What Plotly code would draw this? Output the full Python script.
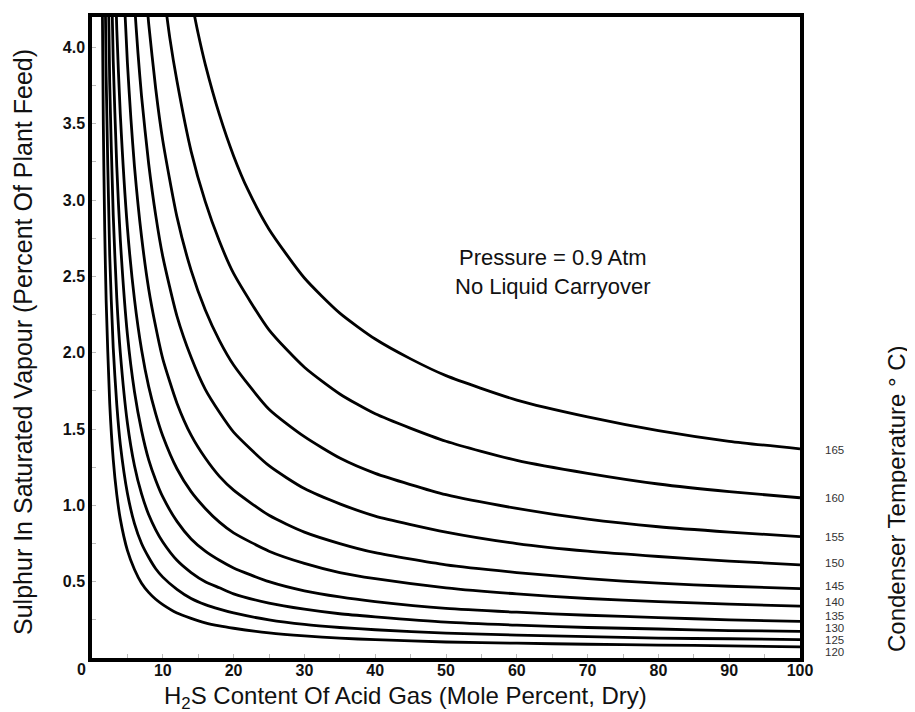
import plotly.graph_objects as go

# ---- data ----
temps = [165, 160, 155, 150, 145, 140, 135, 130, 125, 120]

x165 = [14, 15, 16, 18, 20, 22, 25, 30, 35, 40, 45, 50, 60, 70, 80, 90, 100]
y165 = [4.32, 4.09, 3.89, 3.56, 3.29, 3.07, 2.81, 2.49, 2.26, 2.09, 1.96, 1.85, 1.69, 1.58, 1.49, 1.42, 1.37]

x160 = [10, 11, 12, 14, 16, 18, 20, 25, 30, 35, 40, 50, 60, 70, 80, 90, 100]
y160 = [4.41, 4.06, 3.78, 3.32, 2.99, 2.73, 2.52, 2.15, 1.905, 1.73, 1.60, 1.42, 1.295, 1.21, 1.14, 1.09, 1.05]

x155 = [7.5, 8, 9, 10, 12, 14, 16, 18, 20, 25, 30, 35, 40, 50, 60, 70, 80, 90, 100]
y155 = [4.42, 4.16, 3.73, 3.39, 2.89, 2.54, 2.28, 2.08, 1.92, 1.63, 1.45, 1.31, 1.21, 1.07, 0.98, 0.91, 0.86, 0.825, 0.795]

x150 = [5.5, 6, 6.5, 7, 8, 9, 10, 12, 14, 16, 18, 20, 25, 30, 35, 40, 50, 60, 70, 80, 90, 100]
y150 = [4.69, 4.29, 3.96, 3.68, 3.24, 2.90, 2.63, 2.24, 1.97, 1.76, 1.61, 1.48, 1.26, 1.11, 1.01, 0.93, 0.825, 0.75, 0.70, 0.665, 0.635, 0.61]

x145 = [4.5, 5, 5.5, 6, 7, 8, 9, 10, 12, 14, 16, 18, 20, 25, 30, 35, 40, 50, 60, 70, 80, 90, 100]
y145 = [4.38, 3.90, 3.53, 3.22, 2.76, 2.42, 2.17, 1.96, 1.67, 1.46, 1.31, 1.19, 1.10, 0.935, 0.825, 0.75, 0.69, 0.61, 0.56, 0.52, 0.49, 0.47, 0.455]

x140 = [3, 3.5, 4, 5, 6, 7, 8, 9, 10, 12, 14, 16, 18, 20, 25, 30, 35, 40, 50, 60, 70, 80, 90, 100]
y140 = [4.90, 4.12, 3.56, 2.82, 2.35, 2.02, 1.78, 1.60, 1.455, 1.24, 1.09, 0.98, 0.89, 0.82, 0.70, 0.62, 0.56, 0.52, 0.46, 0.42, 0.39, 0.37, 0.353, 0.34]

x135 = [2.5, 3, 3.5, 4, 5, 6, 7, 8, 9, 10, 12, 14, 16, 18, 20, 25, 30, 35, 40, 50, 60, 70, 80, 90, 100]
y135 = [5.01, 3.91, 3.22, 2.74, 2.12, 1.745, 1.49, 1.30, 1.165, 1.055, 0.895, 0.78, 0.70, 0.64, 0.59, 0.50, 0.44, 0.40, 0.37, 0.325, 0.30, 0.28, 0.265, 0.25, 0.24]

x130 = [2, 2.5, 3, 3.5, 4, 5, 6, 7, 8, 9, 10, 12, 14, 16, 18, 20, 25, 30, 35, 40, 50, 60, 70, 80, 90, 100]
y130 = [5.43, 3.77, 2.90, 2.36, 2.00, 1.54, 1.26, 1.075, 0.94, 0.84, 0.76, 0.64, 0.56, 0.50, 0.46, 0.42, 0.36, 0.32, 0.29, 0.27, 0.235, 0.215, 0.20, 0.19, 0.18, 0.175]

x125 = [1.8, 2, 2.5, 3, 3.5, 4, 5, 6, 7, 8, 9, 10, 12, 14, 16, 18, 20, 25, 30, 35, 40, 50, 60, 70, 80, 90, 100]
y125 = [4.64, 3.81, 2.64, 2.03, 1.66, 1.40, 1.08, 0.88, 0.75, 0.66, 0.585, 0.53, 0.45, 0.39, 0.35, 0.32, 0.295, 0.25, 0.22, 0.20, 0.185, 0.163, 0.15, 0.14, 0.13, 0.126, 0.12]

x120 = [1.4, 1.6, 1.8, 2, 2.5, 3, 3.5, 4, 5, 6, 7, 8, 9, 10, 12, 14, 16, 18, 20, 25, 30, 35, 40, 50, 60, 70, 80, 90, 100]
y120 = [4.63, 3.49, 2.80, 2.34, 1.67, 1.30, 1.07, 0.91, 0.705, 0.58, 0.49, 0.43, 0.385, 0.35, 0.295, 0.26, 0.23, 0.21, 0.195, 0.165, 0.145, 0.13, 0.12, 0.105, 0.097, 0.09, 0.085, 0.08, 0.073]

# y positions of the temperature labels on the right side (data units)
label_y = [1.365, 1.05, 0.79, 0.625, 0.47, 0.365, 0.275, 0.195, 0.12, 0.04]

x_ticks = [10, 20, 30, 40, 50, 60, 70, 80, 90, 100]
y_ticks = [0.5, 1.0, 1.5, 2.0, 2.5, 3.0, 3.5, 4.0]

xs = [x165, x160, x155, x150, x145, x140, x135, x130, x125, x120]
ys = [y165, y160, y155, y150, y145, y140, y135, y130, y125, y120]

FONT = "Liberation Sans, Arial, sans-serif"
INK = "#111"

fig = go.Figure()
for t, xv, yv in zip(temps, xs, ys):
    fig.add_trace(go.Scatter(
        x=xv, y=yv, mode="lines", name=str(t),
        line=dict(color="black", width=2.8, shape="spline", smoothing=0.6),
        showlegend=False, hoverinfo="skip",
    ))

annotations = []
for t, ly in zip(temps, label_y):
    annotations.append(dict(
        x=1, xref="paper", y=ly, yref="y", text=str(t), showarrow=False,
        xanchor="center", yanchor="middle", xshift=34,
        font=dict(family=FONT, size=11.5, color="#333"),
    ))

annotations += [
    dict(x=0, xref="paper", y=0, yref="y", text="0", showarrow=False,
         xanchor="center", yanchor="middle", xshift=-11, yshift=-11,
         font=dict(family=FONT, size=16, color=INK, weight="bold")),
    dict(x=0.651, xref="paper", y=0.6023, yref="paper",
         text="Pressure = 0.9 Atm<br>No Liquid Carryover", showarrow=False,
         xanchor="center", yanchor="middle", align="center",
         font=dict(family=FONT, size=22, color=INK)),
    dict(x=0.4435, xref="paper", y=-0.0615, yref="paper",
         text="H<sub>2</sub>S Content Of Acid Gas (Mole Percent, Dry)", showarrow=False,
         xanchor="center", yanchor="middle",
         font=dict(family=FONT, size=24, color=INK)),
    dict(x=-0.0975, xref="paper", y=0.493, yref="paper",
         text="Sulphur In Saturated Vapour (Percent Of Plant Feed)", showarrow=False,
         textangle=-90, xanchor="center", yanchor="middle",
         font=dict(family=FONT, size=25, color=INK)),
    dict(x=1.1356, xref="paper", y=0.248, yref="paper",
         text="Condenser Temperature ° C)", showarrow=False,
         textangle=-90, xanchor="center", yanchor="middle",
         font=dict(family=FONT, size=24, color=INK)),
]

# the page body adds an 8px margin, so the figure is made 8px smaller
fig.update_layout(
    width=907, height=704,
    margin=dict(l=84, r=115, t=5, b=54),
    paper_bgcolor="white", plot_bgcolor="white",
    showlegend=False,
    annotations=annotations,
    xaxis=dict(
        range=[0, 100], showgrid=False, zeroline=False,
        showline=True, linecolor="black", linewidth=3.5, mirror=True,
        tickmode="array", tickvals=x_ticks, ticktext=[str(v) for v in x_ticks],
        ticks="inside", ticklen=4, tickwidth=1, tickcolor="#bbb",
        minor=dict(tickmode="linear", tick0=0, dtick=5, ticks="inside", ticklen=4, tickcolor="#bbb"),
        tickfont=dict(family=FONT, size=16, color=INK, weight="bold"),
        ticklabelstandoff=-5,
    ),
    yaxis=dict(
        range=[0, 4.2], showgrid=False, zeroline=False,
        showline=True, linecolor="black", linewidth=3.5, mirror=True,
        tickmode="array", tickvals=y_ticks, ticktext=[f"{v:.1f}" for v in y_ticks],
        ticks="inside", ticklen=4, tickwidth=1, tickcolor="#bbb",
        minor=dict(tickmode="linear", tick0=0, dtick=0.25, ticks="inside", ticklen=4, tickcolor="#bbb"),
        tickfont=dict(family=FONT, size=16, color=INK, weight="bold"),
    ),
)

fig.write_html("out.html")
